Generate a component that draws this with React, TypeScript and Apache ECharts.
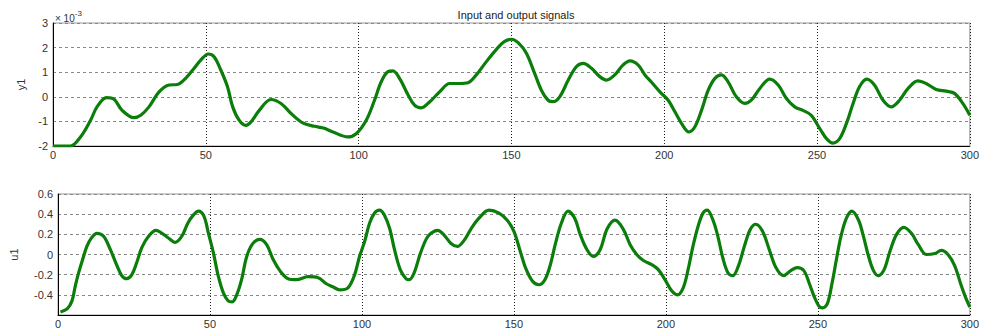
import React, { useEffect, useRef } from "react";
import * as echarts from "echarts";

// y1 (output, ×10^-3): sample positions and values
const y1X = [0, 5.7, 9, 12.3, 14.4, 17.5, 20, 22.6, 26.5, 28.7, 31.4, 34.7, 38, 40.7, 43.4, 46.2, 48.4, 50.8, 52.7, 54.9, 57.1, 58.8, 60.9, 63.1, 64.8, 67.5, 71.3, 74.6, 77.9, 81.7, 85.6, 88.5, 91.6, 96.5, 99.2, 102.5, 105.2, 107.4, 109.6, 111.2, 113.4, 116.2, 118.3, 120.5, 123.3, 126.5, 129.8, 133.1, 135.8, 138.5, 141.8, 145.1, 147.8, 150, 152.2, 154.9, 157.6, 159.8, 162, 163.6, 165.8, 168.6, 171.3, 173.5, 176.2, 178.9, 181.1, 183.8, 186.5, 188.8, 191.5, 193.7, 195.8, 198.6, 201.3, 203.5, 205.7, 208.1, 210, 212.2, 214.4, 216.6, 218.7, 220.9, 223.6, 226.4, 228.5, 231.3, 234.5, 237.3, 240, 242.7, 245.4, 248.1, 250.9, 253.1, 255.2, 257.4, 259.6, 261.8, 263.9, 266.3, 268.8, 271.6, 274.3, 277, 279.8, 283, 285.7, 289, 292.3, 295, 297.7, 300];
const y1Values = [-2, -2, -1.63, -0.95, -0.41, -0.03, -0.1, -0.55, -0.85, -0.75, -0.41, 0.2, 0.48, 0.5, 0.75, 1.16, 1.5, 1.74, 1.63, 1.09, 0.41, -0.41, -0.95, -1.16, -1.02, -0.55, -0.11, -0.27, -0.68, -1.06, -1.2, -1.27, -1.43, -1.63, -1.5, -0.95, -0.14, 0.61, 1.02, 1.05, 0.75, 0.07, -0.34, -0.45, -0.2, 0.2, 0.54, 0.54, 0.57, 0.89, 1.43, 1.93, 2.25, 2.34, 2.2, 1.77, 0.95, 0.27, -0.14, -0.2, 0, 0.68, 1.23, 1.36, 1.16, 0.82, 0.68, 0.89, 1.29, 1.46, 1.29, 0.89, 0.6, 0.2, -0.14, -0.61, -1.09, -1.43, -1.23, -0.55, 0.27, 0.75, 0.89, 0.61, 0, -0.27, -0.14, 0.34, 0.72, 0.48, -0.07, -0.41, -0.55, -0.75, -1.29, -1.7, -1.88, -1.7, -1.09, -0.27, 0.41, 0.72, 0.48, -0.14, -0.41, -0.14, 0.34, 0.65, 0.54, 0.3, 0.23, 0.14, -0.27, -0.75];

// u1 (input): sample positions and values
const u1X = [0.8, 3, 4.6, 5.7, 6.8, 8.1, 9.5, 10.9, 12.8, 15, 17.2, 19.4, 21, 22.6, 24.3, 25.9, 27.6, 29.8, 32.2, 34.7, 36.9, 38.5, 40.7, 42.7, 44.5, 46.2, 48, 49.5, 51.1, 52.7, 54.4, 56, 57.3, 58.8, 60.4, 62, 63.9, 66.4, 68.6, 70.8, 73, 75.7, 78.4, 82.3, 85.6, 88.3, 90.4, 92.7, 95.4, 97.6, 99.2, 100.9, 102.5, 104.1, 105.8, 107.4, 109.1, 110.7, 112.6, 114.5, 115.6, 117.2, 119.1, 121.1, 122.7, 124.9, 127.1, 129.3, 131.4, 133.6, 135.8, 138.5, 141.8, 145.1, 147.8, 150, 152.2, 153.8, 156, 158.2, 160.2, 162, 163.6, 165.6, 167.8, 170, 171.8, 174, 176.2, 178.4, 180.6, 183.3, 186, 188.2, 190.4, 192.6, 195.3, 197.5, 199.7, 201.9, 203.8, 205.7, 207.3, 208.9, 210.6, 212.2, 213.6, 215.5, 217.1, 218.7, 220.4, 222, 223.9, 225.8, 227.8, 229.6, 231.8, 234, 236.2, 238.7, 241.1, 243.2, 245.4, 247.1, 248.7, 250.3, 251.4, 253.1, 254.7, 256.1, 257.6, 259.4, 261.2, 263.4, 265, 266.7, 268.3, 269.9, 271.8, 273.7, 275.9, 278.3, 280.8, 283, 285.7, 288.5, 290.6, 292.8, 295, 297.2, 298.8, 300];
const u1Values = [-0.57, -0.54, -0.46, -0.31, -0.18, -0.05, 0.08, 0.16, 0.21, 0.18, 0.05, -0.11, -0.21, -0.24, -0.2, -0.08, 0.07, 0.18, 0.24, 0.2, 0.15, 0.12, 0.18, 0.31, 0.39, 0.43, 0.38, 0.21, 0.02, -0.21, -0.38, -0.46, -0.47, -0.4, -0.25, -0.03, 0.1, 0.15, 0.1, -0.05, -0.16, -0.24, -0.25, -0.22, -0.23, -0.29, -0.32, -0.35, -0.33, -0.2, -0.02, 0.13, 0.31, 0.41, 0.44, 0.39, 0.26, 0.05, -0.15, -0.24, -0.25, -0.18, 0, 0.15, 0.21, 0.24, 0.19, 0.11, 0.08, 0.14, 0.25, 0.36, 0.44, 0.41, 0.34, 0.23, 0.02, -0.13, -0.26, -0.3, -0.25, -0.1, 0.1, 0.31, 0.43, 0.36, 0.2, 0.05, -0.02, 0.05, 0.25, 0.34, 0.25, 0.1, 0, -0.06, -0.1, -0.15, -0.25, -0.36, -0.4, -0.33, -0.15, 0.08, 0.28, 0.41, 0.44, 0.34, 0.18, -0.03, -0.18, -0.21, -0.11, 0.08, 0.25, 0.3, 0.23, 0.05, -0.13, -0.21, -0.16, -0.13, -0.16, -0.28, -0.41, -0.51, -0.53, -0.49, -0.28, -0.05, 0.18, 0.36, 0.43, 0.34, 0.18, -0.02, -0.16, -0.21, -0.15, 0.03, 0.2, 0.27, 0.21, 0.1, 0, 0.01, 0.04, 0, -0.11, -0.31, -0.44, -0.52];

const xTicks = [0, 50, 100, 150, 200, 250, 300];
const titleText = "Input and output signals";
const y1Name = "y1";
const u1Name = "u1";

const FONT = "'Liberation Sans', Arial, sans-serif";
const GREEN = "#0b7d0b";

export default function App() {
  const ref = useRef<HTMLDivElement>(null);
  useEffect(() => {
    if (!ref.current) return;
    const chart = echarts.init(ref.current, undefined, { renderer: "svg" });
    const fmtNum = (v: number) => {
      const r = Math.round(v * 10) / 10;
      return r === 0 ? "0" : String(r);
    };
    const xAxisBase = (gridIndex: number) => ({
      type: "value" as const,
      gridIndex,
      min: xTicks[0],
      max: xTicks[xTicks.length - 1],
      interval: 50,
      axisLine: { show: true, onZero: false, lineStyle: { color: "#000", width: 1 } },
      axisTick: { show: false },
      axisLabel: { color: "#333", fontSize: 11, fontFamily: FONT, margin: 3 },
      splitLine: { show: true, lineStyle: { color: "#222", type: [1, 2], width: 1 } },
    });
    chart.setOption({
      animation: false,
      backgroundColor: "#fff",
      title: {
        text: titleText,
        left: 511,
        top: 4,
        textAlign: "center",
        textStyle: { fontSize: 11, fontWeight: "normal", color: "#222", fontFamily: FONT },
      },
      graphic: [
        {
          type: "text",
          left: 55,
          top: 9,
          style: {
            text: "{a|× 10}{b|-3}",
            rich: {
              a: { fontSize: 10, fill: "#333", fontFamily: FONT, padding: [4, 0, 0, 0] },
              b: { fontSize: 8, fill: "#333", fontFamily: FONT, verticalAlign: "top" },
            },
          },
        },
      ],
      grid: [
        { left: 53, right: 12, top: 23, height: 123, show: true, borderColor: "#999", borderWidth: 1 },
        { left: 53, right: 12, top: 194, height: 122, show: true, borderColor: "#999", borderWidth: 1 },
      ],
      xAxis: [xAxisBase(0), xAxisBase(1)],
      yAxis: [
        {
          type: "value",
          gridIndex: 0,
          min: -2,
          max: 3,
          interval: 1,
          name: y1Name,
          nameLocation: "middle",
          nameGap: 27,
          nameTextStyle: { color: "#333", fontSize: 11, fontFamily: FONT },
          axisLine: { show: true, onZero: false, lineStyle: { color: "#000", width: 1 } },
          axisTick: { show: false },
          axisLabel: { color: "#333", fontSize: 11, fontFamily: FONT, margin: 5, formatter: fmtNum },
          splitLine: { show: true, lineStyle: { color: "#888", type: [3, 3], width: 1 } },
        },
        {
          type: "value",
          gridIndex: 1,
          min: -0.6,
          max: 0.6,
          interval: 0.2,
          name: u1Name,
          nameLocation: "middle",
          nameGap: 39,
          nameTextStyle: { color: "#333", fontSize: 11, fontFamily: FONT },
          axisLine: { show: true, onZero: false, lineStyle: { color: "#000", width: 1 } },
          axisTick: { show: false },
          axisLabel: {
            color: "#333",
            fontSize: 11,
            fontFamily: FONT,
            margin: 5,
            formatter: (v: number) => (Math.abs(v + 0.6) < 1e-6 ? "" : fmtNum(v)),
          },
          splitLine: { show: true, lineStyle: { color: "#888", type: [3, 3], width: 1 } },
        },
      ],
      series: [
        {
          type: "line",
          xAxisIndex: 0,
          yAxisIndex: 0,
          data: y1X.map((x, i) => [x, y1Values[i]]),
          smooth: 0.35,
          showSymbol: false,
          lineStyle: { color: GREEN, width: 3.2 },
          z: 3,
        },
        {
          type: "line",
          xAxisIndex: 1,
          yAxisIndex: 1,
          data: u1X.map((x, i) => [x, u1Values[i]]),
          smooth: 0.35,
          showSymbol: false,
          lineStyle: { color: GREEN, width: 3.2 },
          z: 3,
        },
      ],
    });
    return () => chart.dispose();
  }, []);
  return (
    <div
      ref={ref}
      style={{ position: "absolute", left: 0, top: 0, width: 982, height: 329, background: "#fff" }}
    />
  );
}
